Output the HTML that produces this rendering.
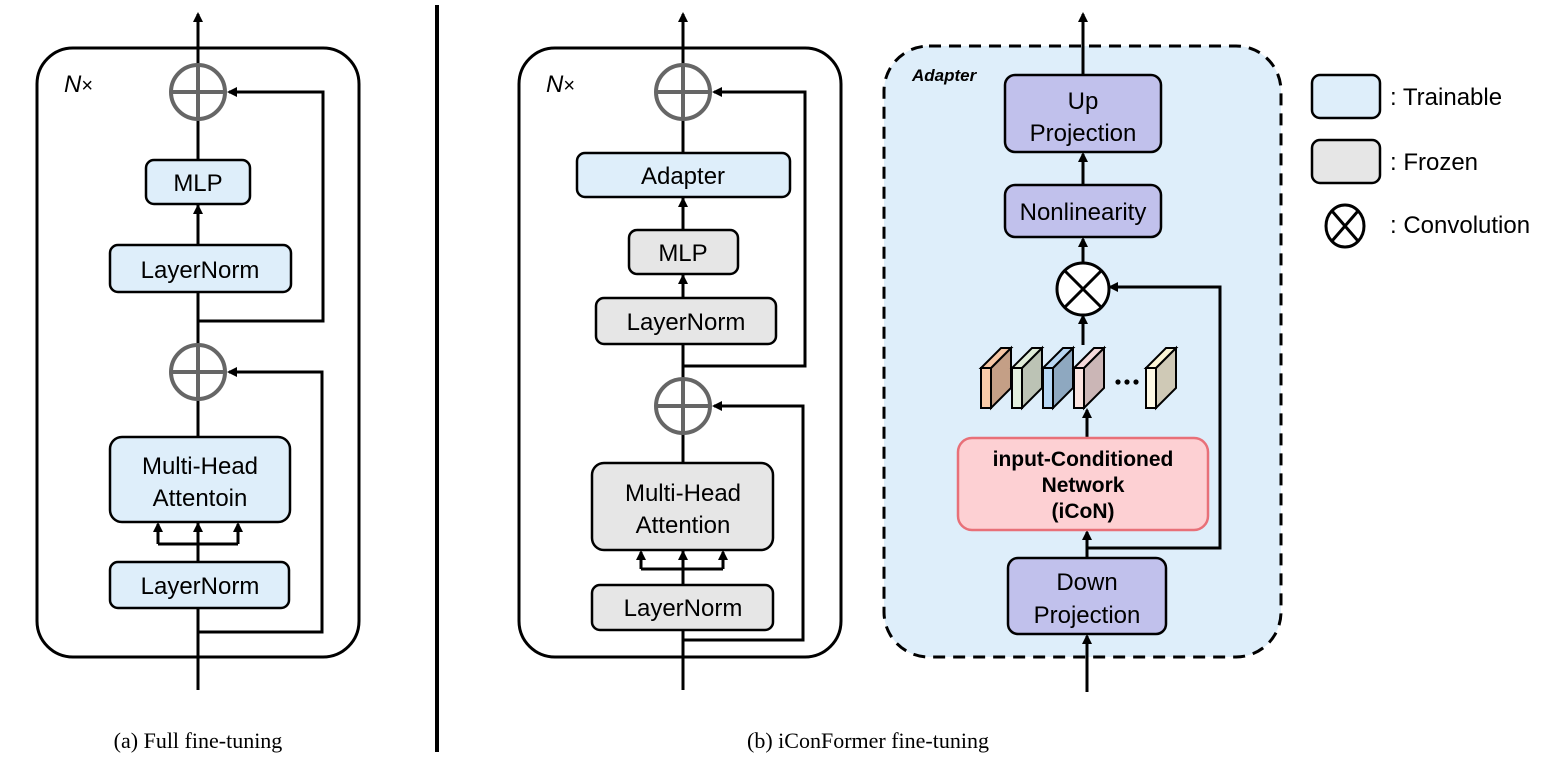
<!DOCTYPE html>
<html><head><meta charset="utf-8"><style>
html,body{margin:0;padding:0;background:#fff;}
svg{display:block;}
text{font-family:"Liberation Sans",sans-serif;}
</style></head><body>
<svg width="1549" height="760" viewBox="0 0 1549 760" xmlns="http://www.w3.org/2000/svg">
<defs>
<marker id="a" markerWidth="10" markerHeight="10" refX="8" refY="5" orient="auto" markerUnits="userSpaceOnUse"><path d="M0,0 L10,5 L0,10 z" fill="#000"/></marker>
</defs>
<g stroke="#000" stroke-width="3" fill="none">
<!-- Panel a -->
<rect x="37" y="48" width="322" height="609" rx="36"/>
<line x1="198" y1="690" x2="198" y2="14" marker-end="url(#a)"/>
<polyline points="198,321 323,321 323,92 229,92" marker-end="url(#a)"/>
<polyline points="198,632 322,632 322,372 229,372" marker-end="url(#a)"/>
<line x1="198" y1="245" x2="198" y2="206" marker-end="url(#a)"/>
<line x1="158" y1="544" x2="238" y2="544"/>
<line x1="158" y1="544" x2="158" y2="524" marker-end="url(#a)"/>
<line x1="238" y1="544" x2="238" y2="524" marker-end="url(#a)"/>
<line x1="198" y1="560" x2="198" y2="524" marker-end="url(#a)"/>
<!-- Panel b -->
<rect x="519" y="48" width="322" height="609" rx="36"/>
<line x1="683" y1="690" x2="683" y2="14" marker-end="url(#a)"/>
<polyline points="683,366 805,366 805,92 714,92" marker-end="url(#a)"/>
<polyline points="683,640 803,640 803,406 714,406" marker-end="url(#a)"/>
<line x1="683" y1="230" x2="683" y2="199" marker-end="url(#a)"/>
<line x1="683" y1="298" x2="683" y2="276" marker-end="url(#a)"/>
<line x1="641" y1="569" x2="723" y2="569"/>
<line x1="641" y1="569" x2="641" y2="552" marker-end="url(#a)"/>
<line x1="723" y1="569" x2="723" y2="552" marker-end="url(#a)"/>
<line x1="683" y1="585" x2="683" y2="552" marker-end="url(#a)"/>
</g>
<!-- separator -->
<line x1="437" y1="5" x2="437" y2="752" stroke="#000" stroke-width="4"/>
<!-- adapter region -->
<rect x="884" y="46" width="397" height="611" rx="45" fill="#deeefa" stroke="#000" stroke-width="3" stroke-dasharray="12,8"/>
<g stroke="#000" stroke-width="3" fill="none">
<line x1="1083" y1="75" x2="1083" y2="14" marker-end="url(#a)"/>
<line x1="1083" y1="185" x2="1083" y2="154" marker-end="url(#a)"/>
<line x1="1083" y1="263" x2="1083" y2="239" marker-end="url(#a)"/>
<line x1="1083" y1="345" x2="1083" y2="316" marker-end="url(#a)"/>
<line x1="1087" y1="438" x2="1087" y2="410" marker-end="url(#a)"/>
<line x1="1087" y1="558" x2="1087" y2="532" marker-end="url(#a)"/>
<polyline points="1087,548 1220,548 1220,287 1110,287" marker-end="url(#a)"/>
<line x1="1087" y1="692" x2="1087" y2="636" marker-end="url(#a)"/>
</g>
<!-- plus circles -->
<g stroke="#666" stroke-width="4" fill="#fff">
<circle cx="198" cy="92" r="27"/><path d="M171,92 H225 M198,65 V119" fill="none"/>
<circle cx="198" cy="372" r="27"/><path d="M171,372 H225 M198,345 V399" fill="none"/>
<circle cx="683" cy="92" r="27"/><path d="M656,92 H710 M683,65 V119" fill="none"/>
<circle cx="683" cy="406" r="27"/><path d="M656,406 H710 M683,379 V433" fill="none"/>
</g>
<!-- boxes -->
<g stroke="#000" stroke-width="2.5">
<rect x="146" y="160" width="104" height="44" rx="8" fill="#deeefa"/>
<rect x="110" y="245" width="181" height="47" rx="8" fill="#deeefa"/>
<rect x="110" y="437" width="180" height="85" rx="12" fill="#deeefa"/>
<rect x="110" y="562" width="179" height="46" rx="8" fill="#deeefa"/>
<rect x="577" y="153" width="213" height="44" rx="8" fill="#deeefa"/>
<rect x="629" y="230" width="109" height="44" rx="8" fill="#e6e6e6"/>
<rect x="596" y="298" width="180" height="46" rx="8" fill="#e6e6e6"/>
<rect x="592" y="463" width="181" height="87" rx="12" fill="#e6e6e6"/>
<rect x="592" y="585" width="181" height="45" rx="8" fill="#e6e6e6"/>
<rect x="1005" y="75" width="156" height="77" rx="10" fill="#c1c1ec"/>
<rect x="1005" y="185" width="156" height="52" rx="10" fill="#c1c1ec"/>
<rect x="1008" y="558" width="158" height="76" rx="10" fill="#c1c1ec"/>
<rect x="1312" y="75" width="68" height="43" rx="8" fill="#deeefa"/>
<rect x="1312" y="140" width="68" height="43" rx="8" fill="#e6e6e6"/>
</g>
<rect x="958" y="438" width="250" height="92" rx="14" fill="#fdd0d3" stroke="#e87078" stroke-width="2.5"/>
<!-- otimes -->
<g stroke="#000" stroke-width="3" fill="#fff">
<circle cx="1083" cy="289" r="26"/>
<path d="M1065,271 L1101,307 M1101,271 L1065,307" fill="none"/>
<ellipse cx="1345" cy="226" rx="19" ry="21"/>
<path d="M1332,211 L1358,241 M1358,211 L1332,241" fill="none"/>
</g>
<!-- cubes -->
<g stroke="#000" stroke-width="2">
<g transform="translate(981,368)"><path d="M10,0 L30,-20 L30,20 L10,40 z" fill="#c49f86"/><path d="M0,0 L10,0 L30,-20 L20,-20 z" fill="#f6c6a4"/><rect x="0" y="0" width="10" height="40" fill="#f9cba8"/></g>
<g transform="translate(1012,368)"><path d="M10,0 L30,-20 L30,20 L10,40 z" fill="#bcc3b5"/><path d="M0,0 L10,0 L30,-20 L20,-20 z" fill="#e0ecd8"/><rect x="0" y="0" width="10" height="40" fill="#e2efde"/></g>
<g transform="translate(1043,368)"><path d="M10,0 L30,-20 L30,20 L10,40 z" fill="#8ea8c0"/><path d="M0,0 L10,0 L30,-20 L20,-20 z" fill="#b8d6f2"/><rect x="0" y="0" width="10" height="40" fill="#b6d7f4"/></g>
<g transform="translate(1074,368)"><path d="M10,0 L30,-20 L30,20 L10,40 z" fill="#cbb6b6"/><path d="M0,0 L10,0 L30,-20 L20,-20 z" fill="#f6dada"/><rect x="0" y="0" width="10" height="40" fill="#fbe4e0"/></g>
<g transform="translate(1146,368)"><path d="M10,0 L30,-20 L30,20 L10,40 z" fill="#cfc9b6"/><path d="M0,0 L10,0 L30,-20 L20,-20 z" fill="#fcf5d6"/><rect x="0" y="0" width="10" height="40" fill="#fdf8e4"/></g>
</g>
<g fill="#000"><circle cx="1118" cy="382" r="2.6"/><circle cx="1127" cy="382" r="2.6"/><circle cx="1136" cy="382" r="2.6"/></g>
<!-- text -->
<g font-size="24" text-anchor="middle" fill="#000">
<text x="198" y="191">MLP</text>
<text x="200" y="278">LayerNorm</text>
<text x="200" y="474">Multi-Head</text>
<text x="200" y="506">Attentoin</text>
<text x="200" y="594">LayerNorm</text>
<text x="683" y="184">Adapter</text>
<text x="683" y="261">MLP</text>
<text x="686" y="330">LayerNorm</text>
<text x="683" y="501">Multi-Head</text>
<text x="683" y="533">Attention</text>
<text x="683" y="616">LayerNorm</text>
<text x="1083" y="109">Up</text>
<text x="1083" y="141">Projection</text>
<text x="1083" y="220">Nonlinearity</text>
<text x="1087" y="590">Down</text>
<text x="1087" y="623">Projection</text>
<text x="1083" y="466" font-size="21" font-weight="bold">input-Conditioned</text>
<text x="1083" y="492" font-size="21" font-weight="bold">Network</text>
<text x="1083" y="518" font-size="21" font-weight="bold">(iCoN)</text>
</g>
<g font-size="24" fill="#000">
<text x="1390" y="105">: Trainable</text>
<text x="1390" y="170">: Frozen</text>
<text x="1390" y="233">: Convolution</text>
<text x="64" y="92"><tspan font-style="italic">N</tspan><tspan font-size="20">×</tspan></text>
<text x="546" y="92"><tspan font-style="italic">N</tspan><tspan font-size="20">×</tspan></text>
<text x="912" y="81" font-size="17" font-weight="bold" font-style="italic">Adapter</text>
</g>
<g font-size="22" text-anchor="middle" fill="#000">
<text x="198" y="748" style="font-family:'Liberation Serif',serif">(a) Full fine-tuning</text>
<text x="868" y="748" style="font-family:'Liberation Serif',serif">(b) iConFormer fine-tuning</text>
</g>
</svg>
</body></html>
